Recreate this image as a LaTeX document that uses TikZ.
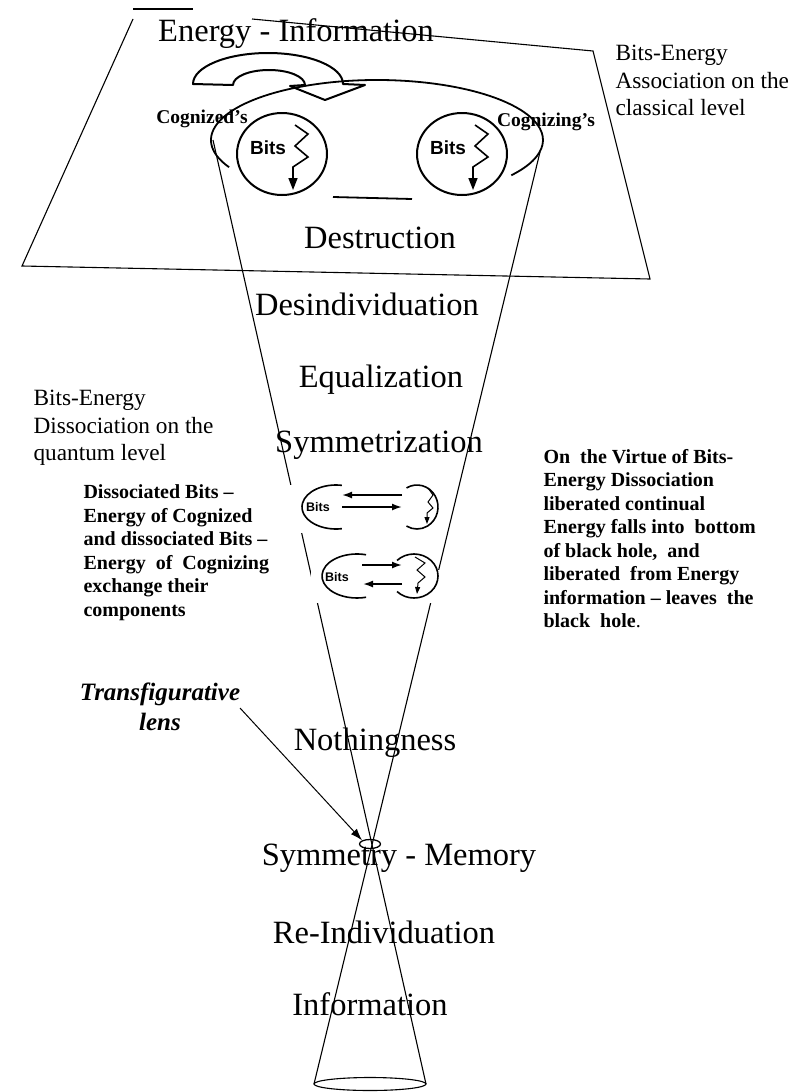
\documentclass[tikz,border=0pt]{standalone}
\usepackage{fontspec}
\setmainfont{Liberation Serif}
\setsansfont{Liberation Sans}
\usepackage{tikz}
\usetikzlibrary{positioning,arrows.meta,shapes.geometric}

\begin{document}
\begin{tikzpicture}[x=1pt,y=-1pt,line width=1.1pt]
  \tikzstyle{big} = [font=\fontsize{32.5}{39}\selectfont, anchor=base, inner sep=0];
  \tikzstyle{side} = [font=\fontsize{23.3}{27.5}\selectfont, align=left, anchor=north west, inner sep=0];
  \tikzstyle{note} = [font=\bfseries\fontsize{20}{23.5}\selectfont, align=left, anchor=north west, inner sep=0];
  \tikzstyle{who} = [font=\bfseries\fontsize{19.5}{23}\selectfont, anchor=base, inner sep=0];
  \tikzstyle{bits} = [font=\sffamily\bfseries\fontsize{19}{22}\selectfont, inner sep=0];
  \tikzstyle{sbits} = [font=\sffamily\bfseries\fontsize{12.5}{15}\selectfont, inner sep=0];
  \tikzstyle{circ} = [line width=2pt];
  \tikzstyle{zig} = [line width=1.6pt, -{Triangle[length=12pt,width=9pt]}];
  \tikzstyle{szig} = [line width=1pt, -{Triangle[length=7pt,width=5pt]}];
  \tikzstyle{swap} = [line width=1.7pt, -{Latex[length=10pt,width=7pt]}];
  \useasboundingbox (0,0) rectangle (807,1092);

  \draw (133,9) -- (193,9);
  \draw (133,19) -- (22,266) -- (650,279) -- (593,51) -- (252,19);

  \foreach \t/\x/\y/\n in {Energy - Information/296/41/enin, Destruction/380/248/destr,
      Desindividuation/367/315/desind, Equalization/381/387/equal, Symmetrization/379/452/symz,
      Nothingness/375/750/noth, Symmetry - Memory/399/865/symmem, Re-Individuation/384/943/reind,
      Information/370/1015/info}
    \node[big] (\n) at (\x,\y) {\t};

  \draw[line width=2pt, line join=round] (193,84) arc[start angle=180, end angle=360, x radius=75, y radius=31]
    -- (365,85) -- (325,100) -- (290,86) -- (305,85)
    arc[start angle=0, end angle=-180, x radius=36, y radius=15] -- cycle;

  \draw[line width=1.8pt] (377,140) ++(153:166 and 60) arc[start angle=153, end angle=396, x radius=166, y radius=60];
  \draw[line width=1.8pt] (333,197) -- (412,199);
  \node[who] (cognized) at (202,123) {Cognized's};
  \node[who] (cognizing) at (546,126) {Cognizing's};

  \foreach \x/\n in {0/cd,180/cg}{
    \draw[circ] (282+\x,154) ellipse [x radius=45, y radius=41];
    \node[bits] (bits\n) at (268+\x,148) {Bits};
    \draw[zig] (295+\x,125) -- (308+\x,134) -- (295+\x,146) -- (308+\x,157) -- (293+\x,167) -- (293+\x,190);
  }

  \coordinate (coneL) at (213,140);
  \coordinate (coneR) at (540,152);
  \coordinate (baseL) at (314,1084);
  \coordinate (baseR) at (426,1084);
  \draw (coneL) -- (baseR);
  \draw (coneR) -- (baseL);
  \draw (370,1084) ellipse [x radius=56, y radius=6.5];
  \node[draw, ellipse, line width=1.3pt, minimum width=21pt, minimum height=9pt, inner sep=0] (lens) at (370,844) {};

  \node[side] (classical) at (615,44.6) {Bits-Energy\\Association on the\\classical level};
  \node[side] (quantum) at (33,389.6) {Bits-Energy\\Dissociation on the\\quantum level};
  \node[note] (exchange) at (83,484.4) {Dissociated Bits --\\Energy of Cognized\\and dissociated Bits --\\Energy\ \ of\ \ Cognizing\\exchange their\\components};
  \node[note] (virtue) at (543,448.5) {On\ \ the Virtue of Bits-\\Energy Dissociation\\liberated continual\\Energy falls into\ \ bottom\\of black hole,\ \ and\\liberated\ \ from Energy\\information -- leaves\ \ the\\black\ \ hole{\mdseries.}};
  \node[font=\bfseries\itshape\fontsize{25}{30}\selectfont, align=center, anchor=north, inner sep=0] (translens) at (160,682.5) {Transfigurative\\lens};
  \coordinate (tlfrom) at (240,708);
  \draw[line width=1pt, -{Latex[length=12pt,width=8pt]}] (tlfrom) -- (lens.north west);

  \fill[white] (287,485) rectangle (445,533);
  \fill[white] (311,570) rectangle (445,603);
  \draw[line width=1.6pt] (336,507) ++(-80:34 and 22) arc[start angle=-80, end angle=-280, x radius=34, y radius=22];
  \draw[line width=1.6pt] (417,507) ++(-120:21 and 22) arc[start angle=-120, end angle=120, x radius=21, y radius=22];
  \node[sbits] (sbitsa) at (318,507) {Bits};
  \draw[swap] (402,495) -- (342,495);
  \draw[swap] (342,507) -- (402,507);
  \draw[szig] (428,488) -- (433,495) -- (428,502) -- (433,508) -- (427,513) -- (427,524);

  \draw[line width=1.6pt] (357,576) ++(-75:35 and 22) arc[start angle=-75, end angle=-285, x radius=35, y radius=22];
  \draw[line width=1.6pt] (414,576) ++(-135:24 and 22) arc[start angle=-135, end angle=135, x radius=24, y radius=22];
  \node[sbits] (sbitsb) at (337,577) {Bits};
  \draw[swap] (362,565) -- (402,565);
  \draw[swap] (402,584) -- (363,584);
  \draw[szig] (415,557) -- (425,563) -- (417,570) -- (425,577) -- (418,583) -- (417,594);
\end{tikzpicture}
\end{document}
